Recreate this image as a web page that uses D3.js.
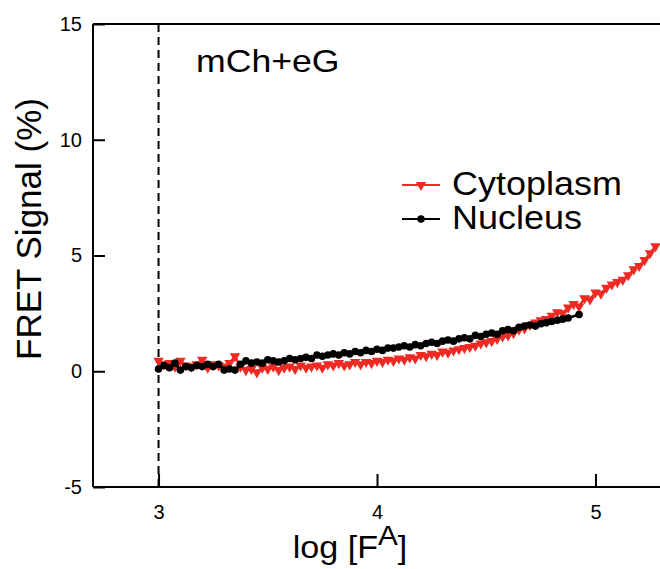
<!DOCTYPE html>
<html>
<head>
<meta charset="utf-8">
<script src="https://cdn.jsdelivr.net/npm/d3@7"></script>
<style>
  body { margin: 0; background: #fff; }
  svg text { font-family: "Liberation Sans", Arial, sans-serif; fill: #000; }
</style>
</head>
<body>
<div id="chart"></div>
<script>
// --- data ---
var cytoX = [3.000,3.025,3.050,3.075,3.100,3.125,3.150,3.175,3.200,3.225,3.250,3.275,3.300,3.325,3.350,3.375,3.400,3.425,3.450,3.475,
  3.500,3.525,3.550,3.575,3.600,3.625,3.650,3.675,3.700,3.725,3.750,3.775,3.800,3.825,3.850,3.875,3.900,3.925,3.950,3.975,
  4.000,4.025,4.050,4.075,4.100,4.125,4.150,4.175,4.200,4.225,4.250,4.275,4.300,4.325,4.350,4.375,4.400,4.425,4.450,4.475,
  4.500,4.525,4.550,4.575,4.600,4.625,4.650,4.675,4.700,4.725,4.750,4.775,4.800,4.825,4.850,4.875,4.900,4.925,4.950,4.975,
  5.000,5.025,5.050,5.075,5.100,5.125,5.150,5.175,5.200,5.225,5.250,5.275];
var cytoY = [0.45,0.30,0.35,0.20,0.45,0.25,0.20,0.30,0.50,0.15,0.30,0.25,0.20,0.35,0.65,0.20,0.05,0.10,-0.05,0.15,
  0.10,0.20,0.05,0.15,0.20,0.10,0.25,0.15,0.20,0.25,0.15,0.30,0.25,0.35,0.25,0.30,0.40,0.30,0.40,0.35,
  0.45,0.40,0.50,0.45,0.55,0.50,0.60,0.55,0.70,0.65,0.75,0.70,0.85,0.80,0.90,0.95,1.00,1.05,1.10,1.20,
  1.25,1.30,1.40,1.50,1.55,1.65,1.80,1.85,2.00,2.10,2.20,2.25,2.40,2.55,2.50,2.75,2.90,2.80,3.15,3.10,
  3.40,3.35,3.60,3.75,3.85,3.95,4.15,4.40,4.55,4.80,5.10,5.40];

var nucX = [3.000,3.025,3.050,3.075,3.100,3.125,3.150,3.175,3.200,3.225,3.250,3.275,3.300,3.325,3.350,3.375,3.400,3.425,3.450,3.475,
  3.500,3.525,3.550,3.575,3.600,3.625,3.650,3.675,3.700,3.725,3.750,3.775,3.800,3.825,3.850,3.875,3.900,3.925,3.950,3.975,
  4.000,4.025,4.050,4.075,4.100,4.125,4.150,4.175,4.200,4.225,4.250,4.275,4.300,4.325,4.350,4.375,4.400,4.425,4.450,4.475,
  4.500,4.525,4.550,4.575,4.600,4.625,4.650,4.675,4.700,4.725,4.750,4.775,4.800,4.825,4.850,4.875,4.925];
var nucY = [0.10,0.25,0.15,0.35,0.05,0.20,0.15,0.25,0.20,0.30,0.20,0.30,0.05,0.10,0.05,0.30,0.45,0.35,0.40,0.35,
  0.50,0.45,0.40,0.45,0.55,0.50,0.55,0.60,0.55,0.70,0.65,0.70,0.75,0.70,0.80,0.75,0.85,0.80,0.90,0.85,
  0.95,0.90,1.00,1.00,1.05,1.10,1.05,1.15,1.10,1.20,1.25,1.20,1.30,1.35,1.30,1.40,1.45,1.40,1.55,1.50,
  1.60,1.65,1.60,1.75,1.80,1.75,1.90,1.95,2.00,1.95,2.05,2.10,2.15,2.20,2.25,2.30,2.45];

var xTicks = [3, 4, 5];
var yTicks = [-5, 0, 5, 10, 15];
var seriesNames = ["Cytoplasm", "Nucleus"];

var width = 660, height = 569;
var margin = {top: 24, right: -1, bottom: 82, left: 93};
var w = width - margin.left - margin.right,
    h = height - margin.top - margin.bottom;

var svg = d3.select("#chart").append("svg")
  .attr("width", width).attr("height", height);

var g = svg.append("g").attr("transform", "translate(" + margin.left + "," + margin.top + ")");

var x = d3.scaleLinear().domain([2.7, 5.3]).range([0, w]);
var y = d3.scaleLinear().domain([-5, 15]).range([h, 0]);

// frame: top line
g.append("line").attr("x1", 0).attr("x2", w).attr("y1", 0).attr("y2", 0)
  .attr("stroke", "#000").attr("stroke-width", 2);

// dashed line at log F = 3
g.append("line").attr("x1", x(3)).attr("x2", x(3)).attr("y1", 0).attr("y2", h)
  .attr("stroke", "#000").attr("stroke-width", 2).attr("stroke-dasharray", "8,5");

// axes (ticks point inward), plain hyphen for negatives
var xAxis = g.append("g").attr("transform", "translate(0," + h + ")")
  .call(d3.axisBottom(x).tickValues(xTicks).tickSize(-13).tickPadding(18).tickFormat(String));
var yAxis = g.append("g")
  .call(d3.axisLeft(y).tickValues(yTicks).tickSize(-12).tickPadding(11).tickFormat(String));

[xAxis, yAxis].forEach(function(a) {
  a.select(".domain").attr("stroke-width", 2);
  a.selectAll(".tick line").attr("stroke-width", 2);
  a.selectAll("text").style("font-size", "20px").style("font-family", "Liberation Sans, Arial, sans-serif");
});
xAxis.select(".domain").attr("d", "M0,0H" + w);
yAxis.select(".domain").attr("d", "M0," + h + "V0");

// series
var line = d3.line().x(function(d) { return x(d[0]); }).y(function(d) { return y(d[1]); });
var cyto = d3.zip(cytoX, cytoY), nuc = d3.zip(nucX, nucY);
var tri = d3.symbol().type(d3.symbolTriangle).size(48);

g.append("path").datum(cyto).attr("d", line).attr("fill", "none")
  .attr("stroke", "#ee2a24").attr("stroke-width", 2.5);
g.selectAll(".cyto").data(cyto).enter().append("path").attr("class", "cyto")
  .attr("d", tri)
  .attr("transform", function(d) { return "translate(" + x(d[0]) + "," + y(d[1]) + ") rotate(180)"; })
  .attr("fill", "#ee2a24");

g.append("path").datum(nuc).attr("d", line).attr("fill", "none")
  .attr("stroke", "#000").attr("stroke-width", 2.5);
g.selectAll(".nuc").data(nuc).enter().append("circle").attr("class", "nuc")
  .attr("cx", function(d) { return x(d[0]); }).attr("cy", function(d) { return y(d[1]); })
  .attr("r", 3.8).attr("fill", "#000");

// label inside plot (text in the source is a bit wider than Liberation Sans)
svg.append("text").attr("transform", "translate(196,72) scale(1.15,1)")
  .style("font-size", "31px").text("mCh+eG");

// legend
var legend = svg.append("g").attr("transform", "translate(402,185)");
var colors = ["#ee2a24", "#000"];
seriesNames.forEach(function(name, i) {
  var row = legend.append("g").attr("transform", "translate(0," + (i * 34) + ")");
  row.append("line").attr("x1", 0).attr("x2", 38).attr("stroke", colors[i]).attr("stroke-width", 2);
  if (i === 0) {
    row.append("path").attr("d", tri).attr("transform", "translate(19,0) rotate(180)").attr("fill", colors[i]);
  } else {
    row.append("circle").attr("cx", 19).attr("r", 3.8).attr("fill", colors[i]);
  }
  row.append("text").attr("transform", "translate(50,10) scale(1.09,1)").style("font-size", "33px").text(name);
});

// axis titles
var xt = svg.append("text").attr("transform", "translate(350,558) scale(1.1,1)").attr("text-anchor", "middle").style("font-size", "31px");
xt.append("tspan").text("log [F");
xt.append("tspan").attr("dy", -13).style("font-size", "27px").text("A");
xt.append("tspan").attr("dy", 13).text("]");

svg.append("text").attr("transform", "translate(41,229) rotate(-90)").attr("text-anchor", "middle")
  .style("font-size", "35px").text("FRET Signal (%)");
</script>
</body>
</html>
